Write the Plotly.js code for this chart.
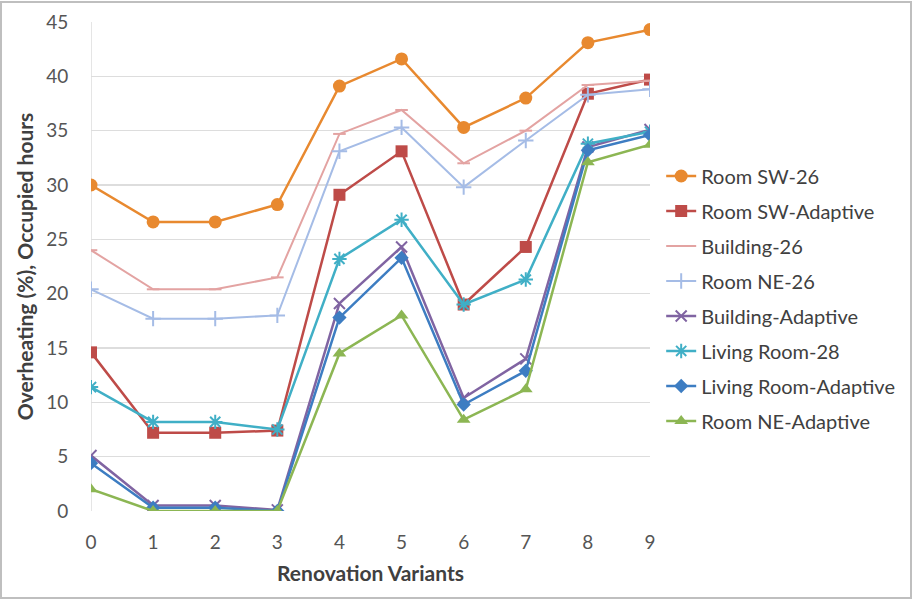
<!DOCTYPE html>
<html>
<head>
<meta charset="utf-8">
<script src="https://cdn.plot.ly/plotly-3.0.1.min.js"></script>
<style>
html,body{margin:0;padding:0;background:#fff;}
#chart{width:913px;height:600px;}
</style>
</head>
<body>
<div id="chart"></div>
<script>
// ---- data ----
const variants = [0, 1, 2, 3, 4, 5, 6, 7, 8, 9];
const tickLabels = ['0','1','2','3','4','5','6','7','8','9'];
const yTicks = [0, 5, 10, 15, 20, 25, 30, 35, 40, 45];

const seriesNames = ['Room SW-26','Room SW-Adaptive','Building-26','Room NE-26','Building-Adaptive','Living Room-28','Living Room-Adaptive','Room NE-Adaptive'];

const roomSW26         = [30.0, 26.6, 26.6, 28.2, 39.1, 41.6, 35.3, 38.0, 43.1, 44.3];
const roomSWAdaptive   = [14.6, 7.2, 7.2, 7.4, 29.1, 33.1, 19.0, 24.3, 38.4, 39.7];
const building26       = [24.0, 20.4, 20.4, 21.5, 34.7, 36.9, 32.0, 35.0, 39.2, 39.6];
const roomNE26         = [20.4, 17.7, 17.7, 18.0, 33.1, 35.3, 29.8, 34.1, 38.3, 38.8];
const buildingAdaptive = [5.1, 0.5, 0.5, 0.1, 19.1, 24.3, 10.4, 14.0, 33.5, 35.1];
const livingRoom28     = [11.4, 8.2, 8.2, 7.5, 23.2, 26.8, 19.0, 21.3, 33.8, 34.9];
const livingRoomAdapt  = [4.4, 0.3, 0.3, 0.0, 17.8, 23.3, 9.8, 12.9, 33.2, 34.6];
const roomNEAdaptive   = [2.0, 0.0, 0.0, 0.0, 14.5, 18.0, 8.4, 11.2, 32.1, 33.7];

const allSeries = [roomSW26, roomSWAdaptive, building26, roomNE26, buildingAdaptive, livingRoom28, livingRoomAdapt, roomNEAdaptive];

// ---- styles ----
const styles = [
  {color:'#E8892F', width:2.5, symbol:'circle', size:13},
  {color:'#BE4B48', width:2.5, symbol:'square', size:12},
  {color:'#E3A3A2', width:2, symbol:'line-ew', size:9, lineMarker:true},
  {color:'#A5BCE6', width:2, symbol:'cross-thin', size:11, lineMarker:true},
  {color:'#8064A2', width:2.5, symbol:'x-thin', size:11, lineMarker:true},
  {color:'#40AFC6', width:2.5, symbol:'asterisk', size:12, lineMarker:true},
  {color:'#3D7DC2', width:2.5, symbol:'diamond', size:11},
  {color:'#8CB653', width:2.5, symbol:'triangle-up', size:12}
];

const traces = allSeries.map((vals, i) => {
  const s = styles[i];
  const marker = {symbol: s.symbol, size: s.size, color: s.color};
  if (s.lineMarker) marker.line = {color: s.color, width: 2};
  else marker.line = {width: 0};
  return {
    x: variants, y: vals, name: seriesNames[i], type: 'scatter', mode: 'lines+markers',
    line: {color: s.color, width: s.width}, marker: marker,
    legendgroup: 'g' + i
  };
});

const font = 'Lato, "Open Sans", sans-serif';
const inv = 'rgba(0,0,0,0)';

const layout = {
  width: 913, height: 600,
  margin: {l: 91, r: 263, t: 22, b: 89},
  paper_bgcolor: '#fff', plot_bgcolor: '#fff',
  font: {family: font, size: 19, color: '#555555'},
  showlegend: true,
  legend: {
    x: 1.02, xanchor: 'left', y: 0.725, yanchor: 'top',
    font: {family: font, size: 20, color: '#404040'},
    tracegroupgap: 6, itemwidth: 30, bgcolor: inv
  },
  xaxis: {
    range: [0, 9], tickvals: variants, ticktext: tickLabels,
    showgrid: false, zeroline: false, showline: false,
    ticks: 'outside', ticklen: 14, tickcolor: inv,
    tickfont: {family: font, size: 19, color: '#555555'},
    title: {text: '<b>Renovation Variants</b>', font: {family: font, size: 21, color: '#404040'}, standoff: 14}
  },
  yaxis: {
    range: [0, 45], tickvals: yTicks,
    showgrid: true, gridcolor: '#DDDDDD', gridwidth: 1.5,
    zeroline: false, showline: false,
    ticks: 'outside', ticklen: 18, tickcolor: inv,
    tickfont: {family: font, size: 19, color: '#555555'},
    title: {text: '<b>Overheating (%), Occupied hours</b>', font: {family: font, size: 21, color: '#404040'}, standoff: 6}
  },
  shapes: [
    {type: 'line', xref: 'x', yref: 'y', x0: 0, x1: 0, y0: 0, y1: 45, line: {color: '#DDDDDD', width: 1.5}, layer: 'below'},
    {type: 'rect', xref: 'paper', yref: 'paper',
     x0: -90/559, x1: 820/559, y0: -87/489, y1: 509/489,
     line: {color: '#BFBFBF', width: 2}, fillcolor: inv}
  ]
};

Plotly.newPlot('chart', traces, layout, {displayModeBar: false, staticPlot: true});
</script>
</body>
</html>
